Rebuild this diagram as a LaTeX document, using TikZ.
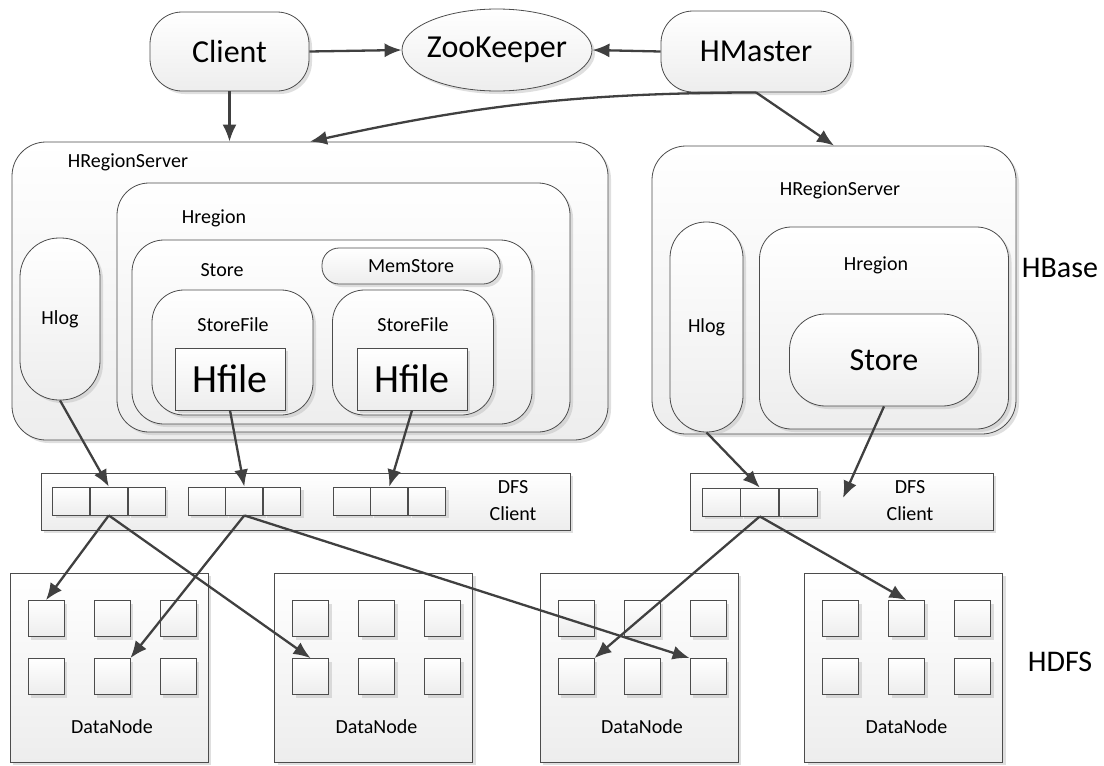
\documentclass[tikz,border=0pt]{standalone}
\usepackage{fontspec}
\setmainfont{Carlito}
\usetikzlibrary{shapes.geometric,arrows.meta,shadows,positioning,calc}
\tikzset{%
  font=\fontsize{20}{24}\selectfont,>={Latex[length=17pt,width=14pt]},
  box/.style={draw=gray!60!black,line width=0.8pt,top color=white,bottom color=gray!14,
    drop shadow={shadow xshift=3pt,shadow yshift=-3pt,fill=gray!50,opacity=.5},inner sep=0pt},
  rbox/.style={box,rectangle,rounded corners=#1},
  rbox/.default=30pt,
  cell/.style={box,rectangle,minimum width=37pt,minimum height=28pt},
  blk/.style={box,rectangle,minimum size=36pt},
  lbl/.style={inner sep=0pt},
  big/.style={font=\fontsize{32}{38}\selectfont},
  line/.style={draw=black!75,line width=2.3pt,->}
}
\begin{document}
\begin{tikzpicture}[x=1pt,y=-1pt]
\useasboundingbox (0,0) rectangle (1104,766);
% top row
\node[rbox=32pt,big,minimum width=159pt,minimum height=79pt] (client) at (229.5,51.5) {Client};
\node[box,ellipse,big,inner xsep=-4pt,minimum width=190pt,minimum height=82pt] (zk) at (497,50) {ZooKeeper};
\node[rbox=32pt,big,minimum width=190pt,minimum height=81pt] (hmaster) at (756,51.5) {HMaster};
% left region server
\node[rbox=34pt,minimum width=596pt,minimum height=298pt] (lrs) at (310,291) {};
\node[lbl] (lrs-t) at (128,162) {HRegionServer};
\node[rbox=39pt,minimum width=80pt,minimum height=162pt] (lhlog) at (60,319) {Hlog};
\node[rbox=32pt,minimum width=453pt,minimum height=249pt] (lreg) at (343.5,307.5) {};
\node[lbl] (lreg-t) at (214,218) {Hregion};
\node[rbox=32pt,minimum width=400pt,minimum height=184pt] (lstore) at (332,332) {};
\node[lbl] (lstore-t) at (222,270) {Store};
\node[rbox=17pt,minimum width=178pt,minimum height=36pt] (mem) at (411,266) {MemStore};
\node[rbox=32pt,minimum width=161pt,minimum height=125pt] (sf1) at (232.5,352.5) {};
\node[lbl] (sf1-t) at (233,325) {StoreFile};
\node[box,rectangle,minimum width=110pt,minimum height=62pt,font=\fontsize{40}{44}\selectfont] (hf1) at (230,379) {Hfile};
\node[rbox=32pt,minimum width=161pt,minimum height=125pt] (sf2) at (413,352.5) {};
\node[lbl] (sf2-t) at (413,325) {StoreFile};
\node[box,rectangle,minimum width=110pt,minimum height=62pt,font=\fontsize{40}{44}\selectfont] (hf2) at (412,379) {Hfile};
% right region server
\node[rbox=34pt,minimum width=364pt,minimum height=288pt] (rrs) at (834,290) {};
\node[lbl] (rrs-t) at (840,190) {HRegionServer};
\node[rbox=36pt,minimum width=73pt,minimum height=210pt] (rhlog) at (706.5,327) {Hlog};
\node[rbox=32pt,minimum width=249pt,minimum height=202pt] (rreg) at (884,328) {};
\node[lbl] (rreg-t) at (876,265) {Hregion};
\node[rbox=36pt,minimum width=189pt,minimum height=92pt,font=\fontsize{32}{36}\selectfont] (rstore) at (884,360) {Store};
\node[lbl,font=\fontsize{30}{36}\selectfont] (hbase) at (1060,268) {HBase};
% dfs clients
\node[box,rectangle,minimum width=529pt,minimum height=57pt] (ldfs) at (305.5,501.5) {};
\node[lbl,align=center,font=\fontsize{20}{27}\selectfont] (ldfs-t) at (513,501) {DFS\\Client};
\foreach \g/\x in {l1/71,l2/206.5,l3/351.5}{
  \node[cell] (\g-a) at (\x,501) {};
  \node[cell,right=0pt of \g-a] (\g-b) {};
  \node[cell,right=0pt of \g-b] (\g-c) {};
}
\node[box,rectangle,minimum width=303pt,minimum height=57pt] (rdfs) at (841.5,501.5) {};
\node[lbl,align=center,font=\fontsize{20}{27}\selectfont] (rdfs-t) at (910,501) {DFS\\Client};
\node[cell,minimum width=38pt] (r1-a) at (721,502) {};
\node[cell,minimum width=38pt,right=0pt of r1-a] (r1-b) {};
\node[cell,minimum width=38pt,right=0pt of r1-b] (r1-c) {};
\coordinate (rin) at (843,498);
% data nodes
\foreach \n/\x in {1/109,2/373.5,3/639,4/903.5}{
  \node[box,rectangle,minimum width=198pt,minimum height=189pt] (dn\n) at (\x,667.5) {};
  \node[blk] (dn\n-1) at (\x-63,618.5) {};
  \node[blk] (dn\n-2) at (\x+3,618.5) {};
  \node[blk] (dn\n-3) at (\x+69,618.5) {};
  \node[blk] (dn\n-4) at (\x-63,676.5) {};
  \node[blk] (dn\n-5) at (\x+3,676.5) {};
  \node[blk] (dn\n-6) at (\x+69,676.5) {};
  \node[lbl] (dn\n-t) at (\x+3,727) {DataNode};
}
\node[lbl,font=\fontsize{30}{36}\selectfont] (hdfs) at (1060,662) {HDFS};
% connectors
\draw[line] (client.east) -- (zk.west);
\draw[line] (hmaster.west) -- (zk.east);
\draw[line] (client.south) -- (client.south |- lrs.north);
\draw[line] (hmaster.south) to[bend right=6] (lrs.north);
\draw[line] (hmaster.south) -- (rrs.north);
\draw[line] (lhlog.south) -- (l1-b.north);
\draw[line] (hf1.south) -- (l2-b.north);
\draw[line] (hf2.south) -- (l3-b.north);
\draw[line] (rhlog.south) -- (r1-b.north);
\draw[line] (rstore.south) -- (rin);
\draw[line] (l1-b.south) -- (dn1-1.north);
\draw[line] (l1-b.south) -- (dn2-4.north);
\draw[line] (l2-b.south) -- (dn1-5.north east);
\draw[line] (l2-b.south) -- (dn3-6.north west);
\draw[line] (r1-b.south) -- (dn3-4.north east);
\draw[line] (r1-b.south) -- (dn4-2.north);
\end{tikzpicture}
\end{document}
